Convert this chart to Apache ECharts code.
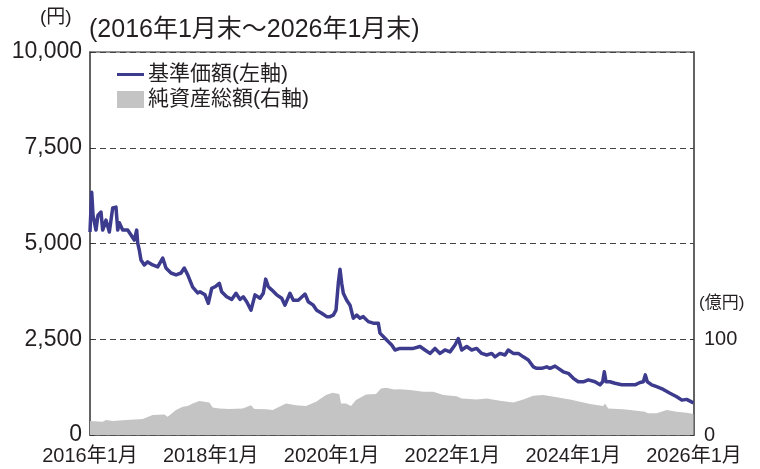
<!DOCTYPE html>
<html><head><meta charset="utf-8">
<script src="https://cdn.jsdelivr.net/npm/echarts@6/dist/echarts.min.js"></script>
<style>html,body{margin:0;padding:0;background:#fff}#c{width:760px;height:469px}</style>
</head><body><div id="c"></div>
<script>
// 基準価額 (円) — time in decimal years
const navYears = [2016.000,2016.028,2016.050,2016.099,2016.132,2016.182,2016.210,2016.265,2016.320,2016.376,2016.430,2016.459,2016.485,2016.541,2016.624,2016.679,2016.733,2016.773,2016.790,2016.816,2016.844,2016.899,2016.955,2017.038,2017.121,2017.204,2017.258,2017.341,2017.424,2017.507,2017.561,2017.618,2017.700,2017.783,2017.821,2017.904,2017.959,2018.015,2018.070,2018.141,2018.180,2018.263,2018.346,2018.417,2018.483,2018.538,2018.594,2018.666,2018.732,2018.815,2018.869,2018.909,2018.952,2019.008,2019.091,2019.174,2019.228,2019.311,2019.366,2019.449,2019.560,2019.614,2019.697,2019.753,2019.836,2019.919,2019.974,2020.028,2020.073,2020.111,2020.139,2020.167,2020.194,2020.250,2020.305,2020.359,2020.416,2020.470,2020.525,2020.608,2020.690,2020.773,2020.801,2020.912,2020.995,2021.050,2021.132,2021.243,2021.353,2021.464,2021.546,2021.629,2021.712,2021.795,2021.877,2021.960,2022.043,2022.098,2022.154,2022.237,2022.319,2022.402,2022.485,2022.568,2022.651,2022.705,2022.788,2022.871,2022.925,2023.008,2023.091,2023.174,2023.257,2023.339,2023.396,2023.478,2023.561,2023.616,2023.699,2023.753,2023.836,2023.919,2024.002,2024.084,2024.167,2024.250,2024.361,2024.444,2024.488,2024.515,2024.543,2024.609,2024.692,2024.803,2024.912,2025.023,2025.106,2025.161,2025.194,2025.227,2025.300,2025.382,2025.492,2025.603,2025.714,2025.800,2025.879,2025.990];
const navValues = [5300,6340,5740,5350,5740,5820,5350,5610,5300,5930,5950,5350,5540,5350,5350,5220,5090,5350,5010,4830,4570,4440,4520,4440,4390,4620,4360,4230,4180,4230,4360,4180,3860,3710,3740,3660,3440,3830,3870,3960,3740,3610,3540,3700,3540,3610,3480,3260,3660,3570,3700,4070,3870,3790,3660,3570,3390,3700,3520,3520,3680,3480,3390,3260,3180,3090,3090,3130,3260,3960,4330,3960,3700,3520,3390,3050,3130,3050,3090,2960,2920,2920,2660,2480,2350,2220,2260,2260,2260,2310,2220,2130,2260,2130,2220,2170,2350,2520,2220,2310,2220,2260,2130,2090,2130,2040,2130,2090,2220,2130,2130,2040,1960,1780,1740,1740,1780,1740,1800,1740,1650,1610,1480,1390,1390,1440,1390,1310,1390,1650,1390,1390,1350,1310,1310,1310,1370,1390,1570,1390,1310,1260,1190,1090,1000,910,930,840];
// 純資産総額 (億円)
const aumYears = [2016.000,2016.017,2016.210,2016.265,2016.376,2016.596,2016.873,2017.038,2017.230,2017.286,2017.424,2017.535,2017.618,2017.700,2017.810,2017.975,2018.031,2018.141,2018.306,2018.528,2018.666,2018.720,2018.914,2019.025,2019.245,2019.411,2019.576,2019.742,2019.907,2020.018,2020.127,2020.156,2020.238,2020.321,2020.404,2020.570,2020.735,2020.818,2020.901,2021.038,2021.132,2021.298,2021.518,2021.684,2021.849,2022.071,2022.154,2022.402,2022.568,2022.788,2023.008,2023.174,2023.339,2023.505,2023.727,2023.947,2024.058,2024.278,2024.498,2024.526,2024.581,2024.829,2025.051,2025.189,2025.237,2025.382,2025.548,2025.714,2025.879,2025.990];
const aumValues = [14.6,14.6,13.9,15.6,14.6,15.6,16.7,20.8,21.5,19.1,26,29.5,30.2,33,35.4,34,28.8,27.8,27.1,27.8,31.2,27.1,26.8,26,33,31.2,30.2,34.7,41.7,44.1,42.7,33,33,30.2,36.5,42.4,42.7,48.6,49.3,47.6,47.9,46.9,45.1,45.1,41.7,40.6,38.2,37.2,38.2,35.7,34,37.2,40.9,41.7,39.3,37.2,35.4,32.3,30.2,33,27.8,26.8,25.3,24.3,22.6,22.6,26,24.3,23.2,21.9];
const xTicks = [2016, 2018, 2020, 2022, 2024, 2026];
const leftTicks = [0, 2500, 5000, 7500, 10000];
const rightTicksShown = [0, 100];

const FONT = '"Liberation Sans", "Noto Sans CJK JP", sans-serif';
const TXT = '#231f20';
const chart = echarts.init(document.getElementById('c'), null, {renderer: 'canvas'});
chart.setOption({
  animation: false,
  textStyle: {fontFamily: FONT, color: TXT},
  grid: {left: 90, right: 66, top: 52, bottom: 34, show: true, borderColor: '#6d6d6d', borderWidth: 1.5, backgroundColor: 'transparent'},
  legend: {
    left: 112, top: 59, orient: 'vertical', itemGap: 4, itemWidth: 27, itemHeight: 17,
    textStyle: {fontFamily: FONT, fontSize: 21, color: TXT, padding: [0,0,0,-1]},
    selectedMode: false,
    data: [
      {name: '基準価額(左軸)', icon: 'path://M0,0H27V3H0Z', itemStyle: {color: '#3d3b8e'}},
      {name: '純資産総額(右軸)', icon: 'rect', itemStyle: {color: '#c4c4c4'}}
    ]
  },
  graphic: [
    {type: 'text', left: 40, top: 8, style: {text: '(円)', font: '19px ' + FONT, fill: TXT}},
    {type: 'text', left: 89, top: 18, style: {text: '(2016年1月末～2026年1月末)', font: '25px ' + FONT, fill: TXT}},
    {type: 'text', left: 699, top: 295, style: {text: '(億円)', font: '17px ' + FONT, fill: TXT}}
  ],
  xAxis: {
    type: 'value', min: 2016, max: 2026, interval: 2,
    axisLine: {show: true, lineStyle: {color: '#555', width: 1.5}},
    axisTick: {show: true, inside: true, length: 6, lineStyle: {color: '#333', width: 1.5},
      customValues: xTicks.slice(1, -1)},
    axisLabel: {fontSize: 20, color: TXT, margin: 11, fontFamily: FONT, customValues: xTicks,
      formatter: v => v + '年1月'},
    splitLine: {show: false}
  },
  yAxis: [
    {
      type: 'value', min: 0, max: 10000, interval: 2500,
      axisLine: {show: true, lineStyle: {color: '#555', width: 1.5}},
      axisTick: {show: true, inside: true, length: 4, lineStyle: {color: '#333'}},
      axisLabel: {fontSize: 23, color: TXT, margin: 8, fontFamily: FONT,
        customValues: leftTicks,
        formatter: v => v.toLocaleString('en-US')},
      splitLine: {show: true, lineStyle: {color: '#444', type: [6, 4], width: 1}}
    },
    {
      type: 'value', min: 0, max: 400, interval: 100, position: 'right',
      axisLine: {show: true, lineStyle: {color: '#555', width: 1.5}},
      axisTick: {show: true, inside: true, length: 4, lineStyle: {color: '#333'}, customValues: rightTicksShown},
      axisLabel: {fontSize: 20, color: TXT, margin: 10, fontFamily: FONT, customValues: rightTicksShown},
      splitLine: {show: false}
    }
  ],
  series: [
    {
      name: '純資産総額(右軸)', type: 'line', yAxisIndex: 1, symbol: 'none', z: 1,
      data: aumYears.map((t, i) => [t, aumValues[i]]),
      lineStyle: {width: 0, color: '#c4c4c4'},
      itemStyle: {color: '#c4c4c4'},
      areaStyle: {color: '#c4c4c4', opacity: 1}
    },
    {
      name: '基準価額(左軸)', type: 'line', yAxisIndex: 0, symbol: 'none', z: 3,
      data: navYears.map((t, i) => [t, navValues[i]]),
      lineStyle: {width: 3.5, color: '#3d3b8e', join: 'round'},
      itemStyle: {color: '#3d3b8e'}
    }
  ]
});
</script></body></html>
